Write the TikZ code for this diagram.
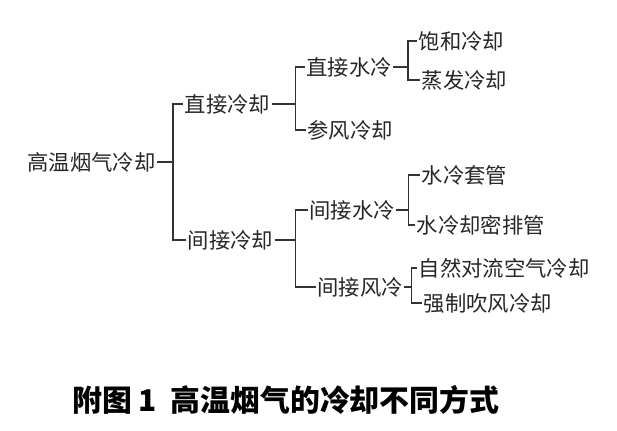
\documentclass[tikz,border=0pt]{standalone}
\usepackage{fontspec}
\setmainfont{Noto Sans CJK SC}
\usepackage{tikz}
\usetikzlibrary{positioning}
\tikzset{
  ct item/.style={
    inner sep=1pt,
    font=\fontsize{16pt}{18pt}\selectfont,
    text=black!85,
  },
  ct caption/.style={
    inner sep=0pt,
    font=\fontsize{22.4pt}{24pt}\selectfont\bfseries,
  },
  ct link/.style={line width=1.1pt, draw=black!80},
}

\begin{document}
\begin{tikzpicture}
  \useasboundingbox (0,0) rectangle (462.75pt,-323.25pt);

  \node[ct item,anchor=west] (root) at (19.5pt,-121.5pt) {高温烟气冷却};
  \node[ct item,right=19.5pt of root,yshift=43.5pt] (zj) {直接冷却};
  \node[ct item,right=21.75pt of root,yshift=-58.5pt] (jj) {间接冷却};

  \node[ct item,right=24.75pt of zj,yshift=27.75pt] (zjs) {直接水冷};
  \node[ct item,right=25.5pt of zj,yshift=-19.5pt] (cf) {参风冷却};
  \node[ct item,right=18pt of zjs,yshift=19.5pt] (bh) {饱和冷却};
  \node[ct item,right=20.25pt of zjs,yshift=-9.75pt] (zf) {蒸发冷却};

  \node[ct item,right=24.75pt of jj,yshift=22.5pt] (jjs) {间接水冷};
  \node[ct item,right=30.75pt of jj,yshift=-35.25pt] (jjf) {间接风冷};
  \node[ct item,right=18pt of jjs,yshift=26.25pt] (tg) {水冷套管};
  \node[ct item,right=14.25pt of jjs,yshift=-11.25pt] (mp) {水冷却密排管};
  \node[ct item,right=9.75pt of jjf,yshift=14.25pt] (zr) {自然对流空气冷却};
  \node[ct item,right=13.5pt of jjf,yshift=-12pt] (qz) {强制吹风冷却};

  \draw[ct link] (root.east) -- ++(12pt,0) |- (zj.west);
  \draw[ct link] (root.east) -- ++(12pt,0) |- (jj.west);
  \draw[ct link] (zj.east) -- ++(18pt,0) |- (zjs.west);
  \draw[ct link] (zj.east) -- ++(18pt,0) |- (cf.west);
  \draw[ct link] (zjs.east) -- ++(11pt,0) |- (bh.west);
  \draw[ct link] (zjs.east) -- ++(11pt,0) |- (zf.west);
  \draw[ct link] (jj.east) -- ++(15.75pt,0) |- (jjs.west);
  \draw[ct link] (jj.east) -- ++(15.75pt,0) |- (jjf.west);
  \draw[ct link] (jjs.east) -- ++(9pt,0) |- (tg.west);
  \draw[ct link] (jjs.east) -- ++(9pt,0) |- (mp.west);
  \draw[ct link] (jjf.east) -- ++(5.5pt,0) |- (zr.west);
  \draw[ct link] (jjf.east) -- ++(5.5pt,0) |- (qz.west);

  \node[ct caption,anchor=west] (cap) at (54pt,-300pt) {附图 1\ \ 高温烟气的冷却不同方式};
\end{tikzpicture}
\end{document}
